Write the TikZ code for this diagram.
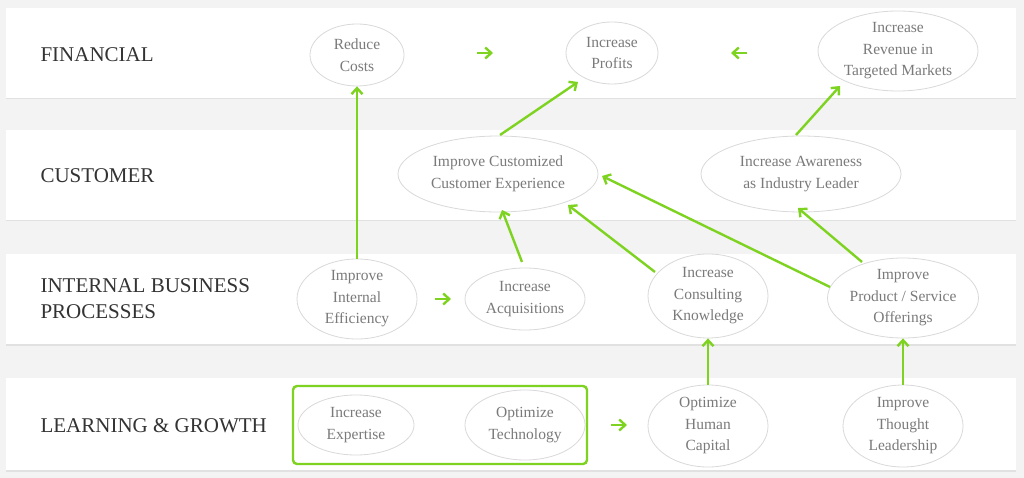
\documentclass[tikz,border=0pt]{standalone}
\usepackage{fontspec}
\setmainfont{Liberation Serif}
\usetikzlibrary{shapes.geometric,arrows.meta,shadows}
\definecolor{grn}{HTML}{7ED321}
\definecolor{bg}{HTML}{F3F3F3}
\definecolor{txt}{HTML}{7A7A7A}
\definecolor{lbl}{HTML}{333333}
\begin{document}
\begin{tikzpicture}[x=1pt,y=-1pt,
 band/.style={fill=white,draw=none,drop shadow={shadow xshift=0pt,shadow yshift=-1.5pt,opacity=0.15}},
 el/.style={ellipse,draw=black!15,line width=0.8pt,fill=white,text=txt,align=center,font=\fontsize{15.5}{21.5}\selectfont,inner sep=0pt},
 lab/.style={anchor=west,text=lbl,align=left,font=\fontsize{21}{26}\selectfont},
 arr/.style={draw=grn,line width=2.4pt,-{Straight Barb[length=6pt,width=11pt,line width=2.4pt]}}]
\useasboundingbox (0,0) rectangle (1024,478);
\fill[bg] (0,0) rectangle (1024,478);
\foreach \a/\b in {8/98,130/220,254/344,378/470}
  \path[band] (6,\a) rectangle (1016,\b);
\node[lab] (l1) at (37,55) {FINANCIAL};
\node[lab] (l2) at (37,176) {CUSTOMER};
\node[lab] (l3) at (37,299) {INTERNAL BUSINESS\\PROCESSES};
\node[lab] (l4) at (37,426) {LEARNING \& GROWTH};
\node[el,minimum width=94pt,minimum height=62pt] (rc) at (357,55) {Reduce\\Costs};
\node[el,minimum width=92pt,minimum height=62pt] (ip) at (612,53) {Increase\\Profits};
\node[el,minimum width=160pt,minimum height=80pt] (ir) at (898,51) {Increase\\Revenue in\\Targeted Markets};
\node[el,minimum width=200pt,minimum height=76pt] (ce) at (498,174) {Improve Customized\\Customer Experience};
\node[el,minimum width=200pt,minimum height=76pt] (aw) at (801,174) {Increase Awareness\\as Industry Leader};
\node[el,minimum width=120pt,minimum height=80pt] (ie) at (357,299) {Improve\\Internal\\Efficiency};
\node[el,minimum width=120pt,minimum height=62pt] (ia) at (525,299) {Increase\\Acquisitions};
\node[el,minimum width=120pt,minimum height=84pt] (ck) at (708,296) {Increase\\Consulting\\Knowledge};
\node[el,minimum width=146pt,minimum height=80pt] (ps) at (903,298) {Improve\\Product / Service\\Offerings};
\node[el,minimum width=116pt,minimum height=60pt] (ex) at (356,425) {Increase\\Expertise};
\node[el,minimum width=120pt,minimum height=70pt] (ot) at (525,425) {Optimize\\Technology};
\node[el,minimum width=120pt,minimum height=82pt] (hc) at (708,426) {Optimize\\Human\\Capital};
\node[el,minimum width=120pt,minimum height=82pt] (tl) at (903,426) {Improve\\Thought\\Leadership};
\node[draw=grn,line width=2.4pt,rounded corners=4pt,minimum width=294pt,minimum height=78pt] (box) at (440,425) {};
\coordinate (a1) at (477,53); \coordinate (a2) at (493,53);
\coordinate (b1) at (747,53); \coordinate (b2) at (731,53);
\coordinate (c1) at (435,299); \coordinate (c2) at (451,299);
\coordinate (d1) at (611,425); \coordinate (d2) at (627,425);
\draw[arr] (a1) -- (a2);
\draw[arr] (b1) -- (b2);
\draw[arr] (c1) -- (c2);
\draw[arr] (d1) -- (d2);
\draw[arr] (ie.north) -- (rc.south);
\draw[arr] (500,135) -- (578,82);
\draw[arr] (796,135) -- (840,86);
\draw[arr] (522,262) -- (502,210);
\draw[arr] (655,272) -- (568,205);
\draw[arr] (830,287) -- (602,176);
\draw[arr] (862,262) -- (798,208);
\draw[arr] (hc.north) -- (ck.south);
\draw[arr] (tl.north) -- (ps.south);
\end{tikzpicture}
\end{document}
